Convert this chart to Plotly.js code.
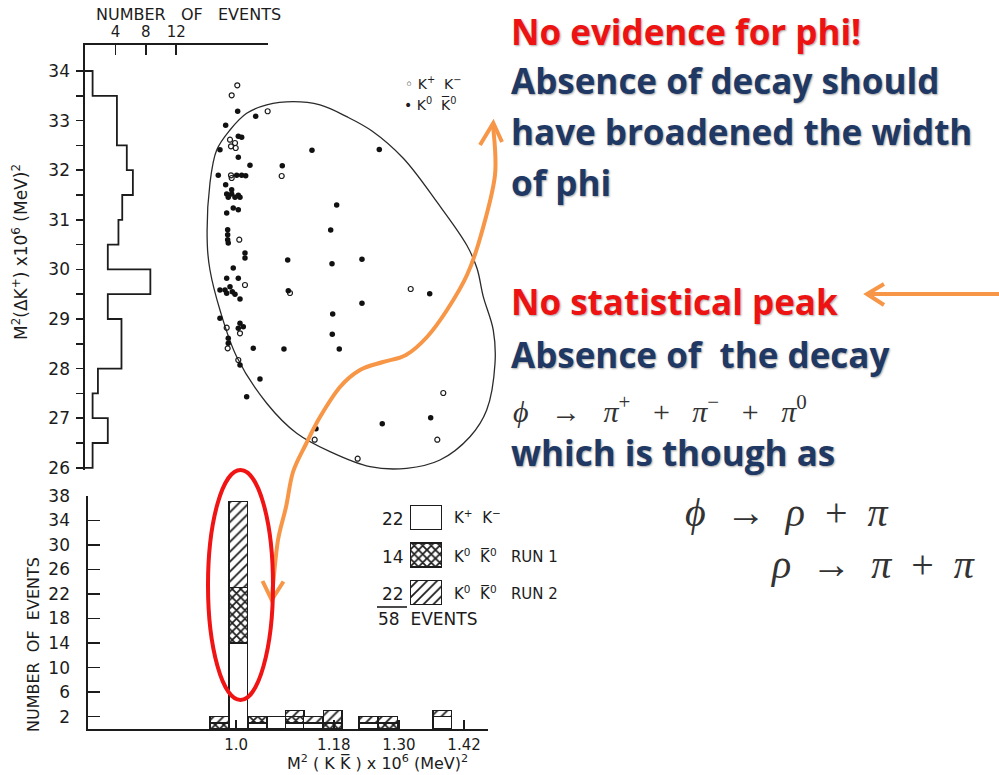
<!DOCTYPE html>
<html>
<head>
<meta charset="utf-8">
<script src="https://cdn.plot.ly/plotly-3.0.1.min.js"></script>
<style>
  html, body { margin: 0; padding: 0; background: #ffffff; }
  #chart { width: 999px; height: 775px; }
</style>
</head>
<body>
<div id="chart"></div>
<script>
// ---------------- data ----------------
// Projection onto M^2(ΔK+): 0.5-wide bins (lower edges) and counts
const sideBinEdges = [26, 26.5, 27, 27.5, 28, 28.5, 29, 29.5, 30, 30.5, 31, 31.5, 32, 32.5, 33, 33.5];
const sideCounts   = [1, 3, 1, 1.7, 4.8, 4.8, 3, 8.6, 3, 4.4, 4.9, 6.3, 5.5, 4.2, 4.2, 1];
const sideTop = 34;
const sideLabels = [26, 27, 28, 29, 30, 31, 32, 33, 34];

// M^2(KK̄) histogram: bin centres (x10^6 MeV^2) and stacked counts
const massBins  = [0.969, 1.004, 1.039, 1.074, 1.108, 1.142, 1.178, 1.244, 1.280, 1.380];
const kpkm      = [0, 14, 1, 2, 1, 1, 0, 1, 0, 2];   // K+ K-
const k0Run1    = [1, 9, 1, 0, 1, 0, 1, 0, 1, 0];    // K0 K0bar, run 1
const k0Run2    = [1, 14, 0, 0, 1, 1, 2, 1, 1, 1];   // K0 K0bar, run 2
const massTicks = [1.0, 1.18, 1.30, 1.42];
const massTickText = ['1.0', '1.18', '1.30', '1.42'];
const countTicks = [2, 6, 10, 14, 18, 22, 26, 30, 34, 38];

// Dalitz plot events: x = M^2(KK̄), y = M^2(ΔK+)
const kpkmX = [1.0022, 0.9919, 1.0582, 0.9888, 0.9980, 0.9906, 0.9993, 0.9906, 0.9919, 1.0840, 1.0059,
               1.0164, 1.0993, 1.3217, 0.9827, 1.0072, 0.9845, 1.0041, 1.3817, 1.1448, 1.3707, 1.2240];
const kpkmY = [33.712, 33.510, 33.188, 32.615, 32.548, 32.482, 32.448, 31.897, 31.843, 31.883, 30.599,
               29.686, 29.524, 29.605, 28.825, 28.712, 28.409, 28.174, 27.508, 26.567, 26.567, 26.184];
const k0X = [1.0029, 1.0361, 0.9808, 1.0041, 1.0103, 0.9703, 1.0041, 1.0256, 0.9672, 1.0011, 1.0103, 1.0177,
             0.9808, 0.9919, 0.9827, 0.9919, 1.0041, 0.9856, 0.9980, 1.0072, 0.9948, 1.0041, 0.9827,
             0.9845, 0.9845, 0.9845, 0.9856, 1.0164, 1.0164, 0.9948, 0.9827, 1.0041, 0.9888, 0.9703,
             0.9796, 0.9930, 0.9827, 0.9980, 1.0072, 0.9703, 1.0072, 1.0133, 1.0041, 0.9856, 0.9856,
             1.0317, 1.0072, 1.0440, 1.0195,
             1.1398, 1.2638, 1.0851, 1.1853, 1.1743, 1.0951, 1.1767, 1.2319, 1.0962, 1.3567, 1.2319,
             1.1780, 1.1772, 1.0882, 1.1901, 1.3585, 1.2693, 1.1472];
const k0Y = [33.188, 33.087, 32.905, 32.684, 32.663, 32.413, 32.260, 32.099, 31.897, 31.897, 31.897, 31.889,
             31.708, 31.607, 31.520, 31.520, 31.494, 31.454, 31.454, 31.454, 31.238, 31.204, 31.137,
             30.800, 30.700, 30.599, 30.532, 30.331, 30.230, 30.030, 29.821, 29.821, 29.651, 29.585,
             29.585, 29.551, 29.518, 29.498, 29.403, 29.014, 28.913, 28.845, 28.813, 28.611, 28.510,
             28.409, 28.073, 27.791, 27.434,
             32.401, 32.417, 32.091, 31.299, 30.795, 30.190, 30.115, 30.204, 29.571, 29.510, 29.317,
             29.101, 28.692, 28.395, 28.395, 27.010, 26.889, 26.789];

// Kinematic boundary of the Dalitz plot
const boundX = [0.9469, 0.9519, 0.9643, 0.9888, 1.0195, 1.0564, 1.1054, 1.1546, 1.2038, 1.2504, 1.3080,
                1.3696, 1.4248, 1.4438, 1.4554, 1.4738, 1.4770, 1.4617, 1.4309, 1.3756, 1.3143, 1.2467,
                1.1730, 1.1116, 1.0564, 1.0011, 0.9703, 0.9519, 0.9469];
const boundY = [30.526, 31.742, 32.407, 32.811, 33.147, 33.315, 33.381, 33.315, 33.079, 32.790, 32.240,
                31.365, 30.492, 30.022, 29.450, 28.778, 28.107, 27.166, 26.627, 26.157, 25.990, 26.022,
                26.325, 26.696, 27.301, 28.240, 29.182, 29.988, 30.526];

// ---------------- helpers ----------------
const W = 999, H = 775;
const fx = px => px / W;
const fy = py => 1 - py / H;
const sum = a => a.reduce((s, v) => s + v, 0);
const NB = '\u00a0';

function smoothPath(pts) {
  let d = `M${fx(pts[0][0])},${fy(pts[0][1])}`;
  for (let i = 0; i < pts.length - 1; i++) {
    const p0 = pts[i - 1] || pts[i], p1 = pts[i], p2 = pts[i + 1], p3 = pts[i + 2] || pts[i + 1];
    const c1 = [p1[0] + (p2[0] - p0[0]) / 6, p1[1] + (p2[1] - p0[1]) / 6];
    const c2 = [p2[0] - (p3[0] - p1[0]) / 6, p2[1] - (p3[1] - p1[1]) / 6];
    d += ` C${fx(c1[0])},${fy(c1[1])} ${fx(c2[0])},${fy(c2[1])} ${fx(p2[0])},${fy(p2[1])}`;
  }
  return d;
}
function polyPath(pts) {
  return pts.map((p, i) => (i ? 'L' : 'M') + fx(p[0]) + ',' + fy(p[1])).join(' ');
}

// step outline for the side projection
const stepX = [0], stepY = [sideBinEdges[0]];
sideBinEdges.forEach((e, i) => { stepX.push(sideCounts[i]); stepY.push(e); });
stepX.push(0); stepY.push(sideTop);
const halfTicks = sideBinEdges.concat([sideTop]);

// ---------------- styles ----------------
const INK = '#1c1c1c';
const FAM = 'DejaVu Sans, sans-serif';
const figFont = { family: FAM, size: 14, color: INK };
const openStyle  = { color: 'white', line: { color: INK, width: 1.3 } };
const crossStyle = { color: 'white', line: { color: INK, width: 1.3 },
                     pattern: { shape: 'x', size: 6, solidity: 0.5, fgcolor: INK, bgcolor: 'white' } };
const hatchStyle = { color: 'white', line: { color: INK, width: 1.3 },
                     pattern: { shape: '/', size: 7, solidity: 0.25, fgcolor: INK, bgcolor: 'white' } };
const BIN_W = 0.0346;

// ---------------- traces ----------------
const traces = [
  // stacked M^2(KK̄) histogram
  { type: 'bar', x: massBins, y: kpkm,   width: BIN_W, marker: openStyle,  xaxis: 'x', yaxis: 'y', name: 'K+K-' },
  { type: 'bar', x: massBins, y: k0Run1, width: BIN_W, marker: crossStyle, xaxis: 'x', yaxis: 'y', name: 'K0K0 run 1' },
  { type: 'bar', x: massBins, y: k0Run2, width: BIN_W, marker: hatchStyle, xaxis: 'x', yaxis: 'y', name: 'K0K0 run 2' },
  // side projection
  { type: 'scatter', mode: 'lines', x: stepX, y: stepY, xaxis: 'x2', yaxis: 'y2',
    line: { color: INK, width: 1.8, shape: 'vh' }, hoverinfo: 'skip' },
  // Dalitz boundary
  { type: 'scatter', mode: 'lines', x: boundX, y: boundY, xaxis: 'x3', yaxis: 'y2',
    line: { color: '#2a2a2a', width: 1.3, shape: 'spline', smoothing: 1 }, hoverinfo: 'skip' },
  // events
  { type: 'scatter', mode: 'markers', x: kpkmX, y: kpkmY, xaxis: 'x3', yaxis: 'y2', name: 'K+K-',
    marker: { symbol: 'circle-open', size: 5, color: INK, line: { width: 1.2 } } },
  { type: 'scatter', mode: 'markers', x: k0X, y: k0Y, xaxis: 'x3', yaxis: 'y2', name: 'K0K0',
    marker: { symbol: 'circle', size: 5.5, color: '#111' } },
  // key swatches
  { type: 'bar', orientation: 'h', x: [1], y: [0], width: 0.64, marker: openStyle,  xaxis: 'x4', yaxis: 'y4', hoverinfo: 'skip' },
  { type: 'bar', orientation: 'h', x: [1], y: [1], width: 0.64, marker: crossStyle, xaxis: 'x4', yaxis: 'y4', hoverinfo: 'skip' },
  { type: 'bar', orientation: 'h', x: [1], y: [2], width: 0.64, marker: hatchStyle, xaxis: 'x4', yaxis: 'y4', hoverinfo: 'skip' }
];

// ---------------- axes ----------------
const axLine = { showline: true, linecolor: INK, linewidth: 1.6, showgrid: false, zeroline: false,
                 tickcolor: INK, tickwidth: 1.5 };
const tickFont = { family: FAM, size: 17, color: INK };

const layout = {
  width: W, height: H,
  margin: { l: 0, r: 0, t: 0, b: 0 },
  paper_bgcolor: 'white', plot_bgcolor: 'rgba(0,0,0,0)',
  showlegend: false, barmode: 'stack', bargap: 0,
  font: figFont,
  xaxis: Object.assign({}, axLine, {
    domain: [fx(88), fx(488)], range: [0.7272, 1.4641], anchor: 'y',
    tickmode: 'array', tickvals: massTicks, ticktext: massTickText,
    ticks: 'inside', ticklen: 9, tickfont: { family: FAM, size: 15, color: INK },
    ticklabelstandoff: 1
  }),
  yaxis: Object.assign({}, axLine, {
    domain: [fy(729), fy(495.7)], range: [0, 38], anchor: 'x',
    tickmode: 'array', tickvals: countTicks,
    ticks: 'inside', ticklen: 12, ticklabelstandoff: 13,
    tickfont: tickFont
  }),
  xaxis2: Object.assign({}, axLine, {
    domain: [fx(85), fx(268)], range: [0, 24.08], anchor: 'y2', side: 'top',
    tickmode: 'array', tickvals: [4, 8, 12], ticks: 'inside', ticklen: 10,
    tickfont: { family: FAM, size: 15, color: INK }
  }),
  yaxis2: Object.assign({}, axLine, {
    domain: [fy(470), fy(45)], range: [25.956, 34.524], anchor: 'x2', side: 'left',
    tickmode: 'array', tickvals: sideLabels,
    ticks: 'outside', ticklen: 7, ticklabelstandoff: 3,
    minor: { tickvals: halfTicks, ticks: 'outside', ticklen: 7, tickwidth: 1.5, tickcolor: INK },
    tickfont: tickFont
  }),
  yaxis3: {
    overlaying: 'y2', anchor: 'x2', side: 'left', range: [25.956, 34.524],
    tickmode: 'array', tickvals: halfTicks, ticks: 'inside', ticklen: 6, tickwidth: 1.5, tickcolor: INK,
    showticklabels: false, showline: false, showgrid: false, zeroline: false
  },
  xaxis3: { domain: [fx(88), fx(500)], range: [0.7272, 1.4862], anchor: 'y2', visible: false },
  xaxis4: { domain: [fx(410), fx(442)], range: [0, 1], anchor: 'y4', visible: false },
  yaxis4: { domain: [fy(611.2), fy(499)], range: [2.5, -0.5], anchor: 'x4', visible: false },
  annotations: [],
  shapes: []
};

// ---------------- figure labels ----------------
const A = layout.annotations;
const lab = (text, x, y, size, opts) => A.push(Object.assign({
  text, x: fx(x), y: fy(y), xref: 'paper', yref: 'paper', showarrow: false,
  xanchor: 'center', yanchor: 'middle', font: { family: FAM, size, color: INK }
}, opts || {}));

lab(`NUMBER${NB}${NB} OF${NB}${NB} EVENTS`, 188, 14, 16);
lab(`M<sup>2</sup>(ΔK<sup>+</sup>)${NB}x10<sup>6</sup>${NB}(MeV)<sup>2</sup>`, 20, 252, 17, { textangle: -90 });
lab(`NUMBER${NB} OF${NB} EVENTS`, 33, 645, 16, { textangle: -90 });
lab(`M<sup>2</sup>${NB}( K K\u0305 ) x 10<sup>6</sup> (MeV)<sup>2</sup>`, 377, 762, 16);

// scatter key
lab(`\u25E6 K<sup>+</sup>${NB} K<sup>\u2212</sup>`, 403, 83, 14, { xanchor: 'left' });
lab(`\u2022 K<sup>0</sup>${NB} K\u0305<sup>0</sup>`, 402, 104, 14, { xanchor: 'left' });

// histogram key: counts come from the series
const nK = sum(kpkm), n1 = sum(k0Run1), n2 = sum(k0Run2);
lab(String(nK), 406, 519, 17, { xanchor: 'right' });
lab(String(n1), 406, 557, 17, { xanchor: 'right' });
lab(String(n2), 406, 594, 17, { xanchor: 'right' });
lab(String(nK + n1 + n2) + `${NB} EVENTS`, 376, 619, 17, { xanchor: 'left' });
lab(`K<sup>+</sup>${NB} K<sup>\u2212</sup>`, 452, 517, 15, { xanchor: 'left' });
lab(`K<sup>0</sup>${NB} K\u0305<sup>0</sup>${NB}${NB} RUN 1`, 452, 556, 15, { xanchor: 'left' });
lab(`K<sup>0</sup>${NB} K\u0305<sup>0</sup>${NB}${NB} RUN 2`, 452, 593, 15, { xanchor: 'left' });
layout.shapes.push({ type: 'line', xref: 'paper', yref: 'paper', x0: fx(377), x1: fx(407), y0: fy(607), y1: fy(607),
                     line: { color: INK, width: 1.6 } });

// ---------------- commentary ----------------
const RED = '#ee1313', NAVY = '#1f3864';
const shadow = '1px 1px 2px rgba(0,0,0,0.35)';
const note = (text, x, y, color) => A.push({
  text, x: fx(x), y: fy(y), xref: 'paper', yref: 'paper', showarrow: false,
  xanchor: 'left', yanchor: 'middle',
  font: { family: 'Open Sans, sans-serif', weight: 700, size: 35, color, shadow }
});
note('No evidence for phi!', 509, 32, RED);
note('Absence of decay should', 509, 80, NAVY);
note('have broadened the width', 509, 131, NAVY);
note('of phi', 509, 182, NAVY);
note('No statistical peak', 509, 301, RED);
note(`Absence of${NB} the decay`, 509, 354, NAVY);
note('which is though as', 509, 452, NAVY);

const formula = (text, x, y, size, sp) => A.push({
  text, x: fx(x), y: fy(y), xref: 'paper', yref: 'paper', showarrow: false,
  xanchor: 'left', yanchor: 'middle',
  font: { family: 'Liberation Serif, serif', size, color: '#333333' }
});
const SP3 = `${NB}${NB} `, SP2 = `${NB} `;
formula(`<i>ϕ</i>${SP3}→${SP3}<i>π</i><sup>+</sup>${SP3}+${SP3}<i>π</i><sup>−</sup>${SP3}+${SP3}<i>π</i><sup>0</sup>`, 511, 409, 30);
formula(`<i>ϕ</i>${SP2}→${SP2}<i>ρ</i>${SP2}+${SP2}<i>π</i>`, 683, 512, 40);
formula(`<i>ρ</i>${SP2}→${SP2}<i>π</i>${SP2}+${SP2}<i>π</i>`, 768, 564, 40);

// ---------------- highlight marks ----------------
const ORANGE = '#f79646';
const S = layout.shapes;
const curve = [[493, 124], [495, 175], [481, 235], [467, 275], [447, 310], [427, 337], [406, 355],
               [383, 362], [360, 370], [340, 387], [320, 417], [306, 444], [293, 472], [286, 507],
               [278, 540], [273.5, 580], [271.7, 599]];
S.push({ type: 'path', xref: 'paper', yref: 'paper', path: smoothPath(curve),
         line: { color: ORANGE, width: 4 } });
S.push({ type: 'path', xref: 'paper', yref: 'paper', path: polyPath([[480, 145], [493.3, 123], [502, 142]]),
         line: { color: ORANGE, width: 4 } });
S.push({ type: 'path', xref: 'paper', yref: 'paper', path: polyPath([[262.5, 581], [271.7, 600], [283.5, 581.5]]),
         line: { color: ORANGE, width: 4 } });
S.push({ type: 'path', xref: 'paper', yref: 'paper', path: polyPath([[999, 294], [868, 294]]),
         line: { color: ORANGE, width: 4 } });
S.push({ type: 'path', xref: 'paper', yref: 'paper', path: polyPath([[884, 284], [867, 294], [884, 305]]),
         line: { color: ORANGE, width: 4 } });
S.push({ type: 'circle', xref: 'paper', yref: 'paper', x0: fx(208), x1: fx(273), y0: fy(700), y1: fy(470),
         line: { color: '#f01414', width: 4 } });

Plotly.newPlot('chart', traces, layout, { displayModeBar: false, staticPlot: true });
</script>
</body>
</html>
